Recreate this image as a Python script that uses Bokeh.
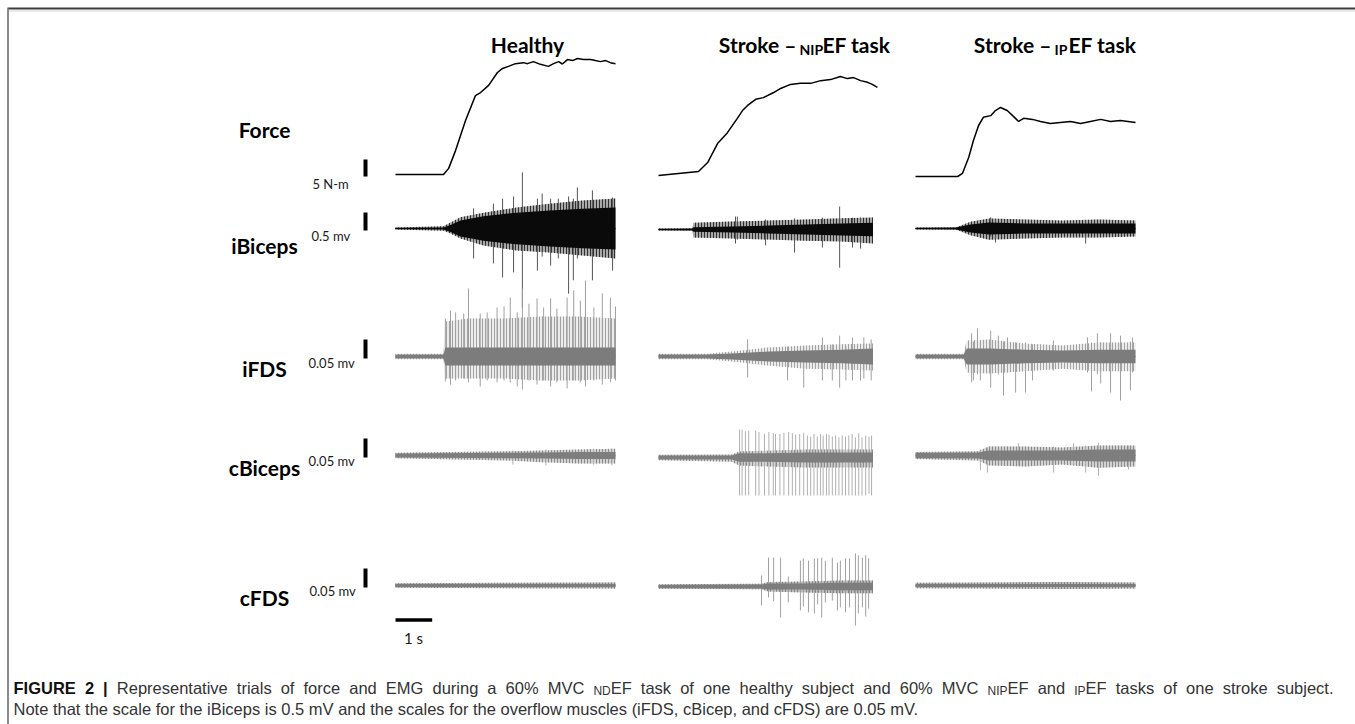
import numpy as np
from bokeh.plotting import figure
from bokeh.models import Range1d
from bokeh.core.properties import value
from bokeh.embed import file_html
from bokeh.resources import INLINE

# ---------------------------------------------------------------- data
rows = ["Force", "iBiceps", "iFDS", "cBiceps", "cFDS"]
scale_values = [5, 0.5, 0.05, 0.05, 0.05]
scale_labels = ["5 N-m", "0.5 mv", "0.05 mv", "0.05 mv", "0.05 mv"]
time_bar_s = 1
time_bar_label = "1 s"

# force above baseline (N-m) vs time (s)
healthy_force_t = [0, 1.31, 1.45, 1.64, 1.91, 2.18, 2.32, 2.54, 2.78, 2.92, 3.08, 3.27, 3.49, 3.60, 3.76,
                   3.95, 4.17, 4.31, 4.45, 4.55, 4.69, 4.83, 4.96, 5.13, 5.32, 5.45, 5.59, 5.73, 5.86, 6.0]
healthy_force = [0, 0, 1.8, 7.1, 15.9, 23.2, 24.1, 26.2, 30.0, 31.2, 31.8, 32.6, 32.9, 32.6, 33.2,
                 32.4, 31.8, 32.6, 33.2, 32.5, 33.8, 33.5, 34.1, 33.8, 33.8, 33.5, 33.2, 33.5, 32.9, 32.6]
nip_force_t = [0, 1.09, 1.34, 1.61, 1.88, 2.15, 2.29, 2.43, 2.65, 2.86, 3.14, 3.33, 3.60, 3.87, 4.15,
               4.42, 4.69, 4.96, 5.15, 5.32, 5.51, 5.70, 5.83, 5.97]
nip_force = [0, 1.2, 3.8, 9.4, 12.6, 16.8, 19.1, 20.6, 22.4, 22.9, 24.4, 25.6, 26.8, 27.1, 27.1,
             27.9, 28.2, 29.1, 28.5, 28.8, 27.9, 27.4, 26.8, 25.9]
ip_force_t = [0, 1.15, 1.28, 1.45, 1.58, 1.72, 1.85, 2.05, 2.18, 2.32, 2.50, 2.65, 2.81, 2.95, 3.19,
              3.41, 3.68, 3.95, 4.23, 4.50, 4.77, 5.05, 5.32, 5.59, 6.0]
ip_force = [0, 0, 0.9, 5.6, 10.6, 15.0, 17.4, 17.9, 19.4, 20.3, 19.4, 17.9, 16.2, 17.1, 16.8,
            16.2, 15.6, 15.9, 16.2, 15.6, 16.2, 16.8, 16.2, 16.5, 15.9]

# EMG envelopes (mV): (time s, dense-core half width, upper extent, lower extent)
healthy_ibiceps_env = [(0, 0.02, 0.03, 0.03), (1.31, 0.03, 0.06, 0.06), (1.5, 0.1, 0.17, 0.14),
                       (1.77, 0.22, 0.31, 0.28), (2.4, 0.34, 0.44, 0.47), (3.3, 0.44, 0.58, 0.61),
                       (4.2, 0.5, 0.69, 0.67), (5.1, 0.55, 0.78, 0.75), (6.0, 0.58, 0.83, 0.83)]
healthy_ifds_env = [(0, 0.005, 0.007, 0.007), (1.31, 0.005, 0.007, 0.007), (1.36, 0.024, 0.092, 0.058),
                    (2, 0.024, 0.1, 0.058), (3, 0.024, 0.1, 0.058), (4, 0.024, 0.105, 0.063),
                    (5, 0.024, 0.105, 0.063), (6, 0.024, 0.1, 0.058)]
healthy_cbiceps_env = [(0, 0.005, 0.007, 0.007), (3.0, 0.007, 0.011, 0.013), (4, 0.008, 0.013, 0.018),
                       (5, 0.009, 0.016, 0.021), (6, 0.009, 0.018, 0.021)]
healthy_cfds_env = [(0, 0.004, 0.006, 0.006), (3, 0.004, 0.007, 0.007), (6, 0.004, 0.008, 0.008)]
nip_ibiceps_env = [(0, 0.02, 0.03, 0.03), (0.93, 0.03, 0.03, 0.03), (0.95, 0.06, 0.19, 0.22),
                   (2, 0.08, 0.22, 0.25), (3, 0.11, 0.25, 0.28), (4, 0.14, 0.28, 0.31),
                   (5, 0.17, 0.31, 0.33), (5.85, 0.19, 0.33, 0.39)]
nip_ifds_env = [(0, 0.005, 0.007, 0.007), (1.3, 0.005, 0.007, 0.007), (2, 0.008, 0.013, 0.013),
                (3, 0.013, 0.024, 0.024), (4, 0.016, 0.029, 0.032), (5, 0.018, 0.032, 0.034),
                (5.85, 0.021, 0.034, 0.037)]
nip_cbiceps_env = [(0, 0.005, 0.007, 0.007), (2.0, 0.005, 0.008, 0.011), (2.2, 0.011, 0.016, 0.021),
                   (3, 0.011, 0.018, 0.024), (4, 0.013, 0.021, 0.026), (5, 0.013, 0.021, 0.026),
                   (5.85, 0.013, 0.021, 0.026)]
nip_cfds_env = [(0, 0.004, 0.006, 0.006), (2.78, 0.005, 0.007, 0.007), (3.0, 0.008, 0.012, 0.013),
                (4, 0.008, 0.013, 0.016), (5, 0.01, 0.016, 0.018), (5.85, 0.01, 0.016, 0.018)]
ip_ibiceps_env = [(0, 0.02, 0.03, 0.03), (1.1, 0.03, 0.03, 0.03), (1.5, 0.11, 0.19, 0.19),
                  (2, 0.17, 0.28, 0.31), (3, 0.14, 0.25, 0.28), (4, 0.14, 0.22, 0.25),
                  (5, 0.14, 0.25, 0.25), (6, 0.14, 0.22, 0.22)]
ip_ifds_env = [(0, 0.005, 0.007, 0.007), (1.31, 0.005, 0.007, 0.007), (1.4, 0.021, 0.042, 0.042),
               (2, 0.021, 0.045, 0.045), (3, 0.018, 0.034, 0.039), (4, 0.016, 0.029, 0.032),
               (5, 0.018, 0.037, 0.039), (6, 0.018, 0.037, 0.039)]
ip_cbiceps_env = [(0, 0.007, 0.009, 0.009), (1.7, 0.008, 0.011, 0.013), (2, 0.013, 0.024, 0.026),
                  (3, 0.013, 0.024, 0.029), (4, 0.013, 0.021, 0.024), (5, 0.016, 0.026, 0.032),
                  (6, 0.016, 0.026, 0.029)]
ip_cfds_env = [(0, 0.004, 0.007, 0.007), (2, 0.004, 0.008, 0.008), (4, 0.004, 0.009, 0.009),
               (6, 0.004, 0.008, 0.008)]

# individual large EMG spikes (mV): (time s, upward peak, downward peak)
healthy_ibiceps_spikes = [(2.13, 0.56, 0.83), (2.67, 0.69, 0.97), (2.92, 0.83, 1.36), (3.22, 0.89, 1.22),
                          (3.46, 1.56, 2.19), (3.87, 0.83, 1.17), (4.00, 0.97, 0.78), (4.23, 0.83, 1.03),
                          (4.44, 0.83, 0.83), (4.72, 0.89, 1.81), (4.85, 0.83, 1.44), (4.96, 1.14, 0.83),
                          (5.37, 1.06, 1.44), (5.92, 0.86, 1.17)]
healthy_ifds_spikes = [(1.36, 0.100, 0.066), (1.50, 0.121, 0.074), (1.64, 0.116, 0.063), (1.86, 0.113, 0.058),
                       (1.99, 0.179, 0.068), (2.31, 0.113, 0.079), (2.50, 0.116, 0.063), (2.77, 0.129, 0.068),
                       (2.96, 0.132, 0.063), (3.13, 0.155, 0.068), (3.32, 0.116, 0.079), (3.46, 0.179, 0.087),
                       (3.64, 0.139, 0.063), (3.86, 0.153, 0.074), (4.04, 0.129, 0.063), (4.23, 0.153, 0.079),
                       (4.40, 0.126, 0.068), (4.68, 0.155, 0.084), (4.86, 0.174, 0.063), (5.04, 0.147, 0.068),
                       (5.18, 0.200, 0.079), (5.41, 0.129, 0.063), (5.64, 0.166, 0.074), (5.86, 0.155, 0.068),
                       (6.0, 0.132, 0.063)]
healthy_cbiceps_spikes = [(3.2, 0.013, 0.024), (4.1, 0.016, 0.026), (5.4, 0.018, 0.024), (5.9, 0.018, 0.026)]
healthy_cfds_spikes = []
nip_ibiceps_spikes = [(2.10, 0.36, 0.39), (2.15, 0.36, 0.28), (2.92, 0.28, 0.44), (3.71, 0.31, 0.64),
                      (4.47, 0.33, 0.5), (4.94, 0.64, 1.06), (5.29, 0.33, 0.5), (5.51, 0.33, 0.53)]
nip_ifds_spikes = [(2.43, 0.045, 0.055), (3.52, 0.026, 0.063), (3.96, 0.026, 0.082), (4.47, 0.05, 0.063),
                   (4.74, 0.032, 0.063), (4.94, 0.055, 0.082), (5.11, 0.026, 0.063), (5.29, 0.05, 0.063),
                   (5.51, 0.032, 0.063), (5.60, 0.05, 0.058), (5.80, 0.045, 0.063)]
nip_cbiceps_spikes = [(2.21, 0.073, 0.1), (2.28, 0.073, 0.1), (2.37, 0.069, 0.1), (2.46, 0.071, 0.1),
                      (2.65, 0.071, 0.1), (2.74, 0.067, 0.1), (2.89, 0.062, 0.1), (3.01, 0.067, 0.1),
                      (3.13, 0.064, 0.1), (3.19, 0.062, 0.1), (3.31, 0.062, 0.1), (3.42, 0.065, 0.1),
                      (3.55, 0.067, 0.1), (3.65, 0.064, 0.1), (3.74, 0.060, 0.1), (3.85, 0.062, 0.1),
                      (3.96, 0.065, 0.1), (4.06, 0.058, 0.1), (4.15, 0.055, 0.1), (4.24, 0.062, 0.1),
                      (4.33, 0.055, 0.1), (4.42, 0.062, 0.1), (4.49, 0.058, 0.1), (4.58, 0.062, 0.1),
                      (4.65, 0.060, 0.1), (4.74, 0.055, 0.1), (4.83, 0.058, 0.1), (4.92, 0.053, 0.1),
                      (5.01, 0.058, 0.1), (5.10, 0.055, 0.1), (5.19, 0.058, 0.1), (5.28, 0.062, 0.1),
                      (5.37, 0.053, 0.1), (5.46, 0.064, 0.1), (5.55, 0.053, 0.1), (5.65, 0.058, 0.1),
                      (5.74, 0.055, 0.095), (5.81, 0.058, 0.1)]
nip_cfds_spikes = [(2.81, 0.029, 0.05), (3.00, 0.076, 0.029), (3.14, 0.076, 0.039), (3.33, 0.076, 0.082),
                   (3.54, 0.026, 0.042), (3.87, 0.068, 0.063), (3.95, 0.074, 0.053), (4.09, 0.068, 0.068),
                   (4.25, 0.074, 0.071), (4.34, 0.074, 0.047), (4.45, 0.076, 0.082), (4.55, 0.068, 0.042),
                   (4.74, 0.076, 0.037), (4.88, 0.063, 0.063), (4.96, 0.068, 0.055), (5.10, 0.074, 0.068),
                   (5.21, 0.074, 0.055), (5.37, 0.087, 0.103), (5.45, 0.082, 0.071), (5.56, 0.076, 0.055),
                   (5.65, 0.082, 0.079), (5.73, 0.074, 0.058)]
ip_ibiceps_spikes = [(2.05, 0.31, 0.22), (2.18, 0.25, 0.39), (4.64, 0.22, 0.42)]
ip_ifds_spikes = [(1.53, 0.061, 0.068), (1.58, 0.039, 0.063), (1.69, 0.074, 0.047), (1.77, 0.039, 0.063),
                  (2.05, 0.068, 0.082), (2.26, 0.055, 0.047), (2.40, 0.039, 0.103), (2.51, 0.05, 0.042),
                  (2.73, 0.037, 0.095), (3.00, 0.037, 0.095), (3.19, 0.032, 0.063), (3.76, 0.042, 0.037),
                  (4.69, 0.05, 0.042), (4.80, 0.037, 0.092), (4.96, 0.061, 0.047), (5.05, 0.037, 0.071),
                  (5.32, 0.061, 0.095), (5.59, 0.055, 0.116), (5.86, 0.039, 0.089), (5.92, 0.05, 0.042)]
ip_cbiceps_spikes = [(1.77, 0.016, 0.039), (1.96, 0.021, 0.045), (2.81, 0.032, 0.026), (3.76, 0.024, 0.045),
                     (4.31, 0.032, 0.026), (4.64, 0.026, 0.045), (4.99, 0.034, 0.053), (5.81, 0.026, 0.037)]
ip_cfds_spikes = []

caption_lead = "FIGURE 2 |"
caption_line1 = ("Representative trials of force and EMG during a 60% MVC _ND_EF task of one healthy "
                 "subject and 60% MVC _NIP_EF and _IP_EF tasks of one stroke subject.")
caption_line2 = ("Note that the scale for the iBiceps is 0.5 mV and the scales for the overflow muscles "
                 "(iFDS, cBicep, and cFDS) are 0.05 mV.")

# ---------------------------------------------------------------- layout
W, H = 1355, 724
PX_PER_S = 36.67
col_left = [395, 658, 915]
row_base = [[174, 175, 176], [228, 229, 228], [356, 356, 356], [455, 457, 455], [585, 586, 585]]
row_px_per_unit = [3.4, 36.0, 380.0, 380.0, 380.0]
row_label_base = [129, 245, 368, 467, 597]
unit_label_x = [312, 311, 308, 308, 309]
unit_label_base = [183, 235, 362, 460, 590]
BAR_X = 365

p = figure(width=W, height=H, x_range=Range1d(0, W), y_range=Range1d(H, 0),
           output_backend="svg", toolbar_location=None, x_axis_type=None, y_axis_type=None,
           min_border=0, outline_line_color=None)
p.background_fill_color = "white"
p.border_fill_color = "white"

for c, L in enumerate(col_left):
    p.extra_x_ranges[f"t{c}"] = Range1d(-L / PX_PER_S, (W - L) / PX_PER_S)
for r in range(5):
    k = row_px_per_unit[r]
    for c in range(3):
        B = row_base[r][c]
        p.extra_y_ranges[f"r{r}c{c}"] = Range1d((B - H) / k, B / k)


def txt(x, y, s, size, bold=False, align="left", font="Lato", color="#000000"):
    p.text(x=[x], y=[y], text=[s], text_font=value(font), text_font_size=f"{size}px",
           text_font_style="bold" if bold else "normal", text_align=align,
           text_baseline="alphabetic", text_color=color)


# frame lines
p.segment(x0=[7], y0=[8], x1=[W], y1=[8], line_color="#3c3c3c", line_width=2)
p.segment(x0=[8], y0=[10.5], x1=[W], y1=[10.5], line_color="#d5d5d5", line_width=1)
p.segment(x0=[7.5], y0=[8], x1=[7.5], y1=[H], line_color="#8a8a8a", line_width=2)

# force traces
for c, (t, f) in enumerate([(healthy_force_t, healthy_force), (nip_force_t, nip_force),
                            (ip_force_t, ip_force)]):
    p.line(x=t, y=f, x_range_name=f"t{c}", y_range_name=f"r0c{c}", line_color="black",
           line_width=1.5)

# EMG traces
emg = {
    (1, 0): (healthy_ibiceps_env, healthy_ibiceps_spikes), (2, 0): (healthy_ifds_env, healthy_ifds_spikes),
    (3, 0): (healthy_cbiceps_env, healthy_cbiceps_spikes), (4, 0): (healthy_cfds_env, healthy_cfds_spikes),
    (1, 1): (nip_ibiceps_env, nip_ibiceps_spikes), (2, 1): (nip_ifds_env, nip_ifds_spikes),
    (3, 1): (nip_cbiceps_env, nip_cbiceps_spikes), (4, 1): (nip_cfds_env, nip_cfds_spikes),
    (1, 2): (ip_ibiceps_env, ip_ibiceps_spikes), (2, 2): (ip_ifds_env, ip_ifds_spikes),
    (3, 2): (ip_cbiceps_env, ip_cbiceps_spikes), (4, 2): (ip_cfds_env, ip_cfds_spikes),
}
# (outer fill, outer hatch, spike, core) colours per muscle row
row_colors = {1: ("#a8a8a8", "#303030", "#555555", "#0a0a0a"),
              2: ("#ececec", "#a2a2a2", "#a0a0a0", "#7c7c7c"),
              3: ("#d2d2d2", "#8c8c8c", "#b0b0b0", "#7e7e7e"),
              4: ("#bdbdbd", "#858585", "#a0a0a0", "#7d7d7d")}

for (r, c), (env, spikes) in emg.items():
    e = np.array(env, dtype=float)
    t, core, up, dn = e[:, 0], e[:, 1], e[:, 2], e[:, 3]
    outer_col, hatch_col, spike_col, core_col = row_colors[r]
    rn = dict(x_range_name=f"t{c}", y_range_name=f"r{r}c{c}")
    p.varea(x=t, y1=-dn, y2=up, fill_color=outer_col, hatch_pattern="vertical_line",
            hatch_color=hatch_col, hatch_scale=3, hatch_weight=1, **rn)
    if spikes:
        s = np.array(spikes, dtype=float)
        p.segment(x0=s[:, 0], y0=-s[:, 2], x1=s[:, 0], y1=s[:, 1], line_color=spike_col,
                  line_width=1, **rn)
    p.varea(x=t, y1=-core, y2=core, fill_color=core_col, **rn)
    p.line(x=[t[0], t[-1]], y=[0, 0], line_color=core_col, line_width=1, **rn)

# amplitude scale bars, unit labels and row labels
for r in range(5):
    k = row_px_per_unit[r]
    drop = 2.0 / k
    p.segment(x0=[BAR_X], y0=[-drop], x1=[BAR_X], y1=[scale_values[r] - drop], line_color="black",
              line_width=4, y_range_name=f"r{r}c0")
    txt(unit_label_x[r], unit_label_base[r], scale_labels[r], 13, color="#1a1a1a")
    txt(264, row_label_base[r], rows[r], 21, bold=True, align="center")

# time scale bar
p.segment(x0=[0], y0=[619.5], x1=[time_bar_s], y1=[619.5], x_range_name="t0", line_color="black",
          line_width=3.5)
txt(413, 637, time_bar_label, 15, align="center", color="#1a1a1a")

# column titles
txt(527, 44, "Healthy", 21, bold=True, align="center")
txt(796, 44, "Stroke \u2013", 21, bold=True, align="right")
txt(799, 49, "NIP", 14, bold=True)
txt(822, 44, "EF task", 21, bold=True)
txt(1051, 44, "Stroke \u2013", 21, bold=True, align="right")
txt(1054, 49, "IP", 14, bold=True)
txt(1068, 44, "EF task", 21, bold=True)

# caption: justified first line (Arial metrics of Liberation Sans used to place words)
AR = {' ': 278, '%': 889, '(': 333, ')': 333, ',': 278, '-': 333, '.': 278, '|': 260, '0': 556,
      '2': 556, '5': 556, '6': 556,
      'A': 667, 'B': 667, 'C': 722, 'D': 722, 'E': 667, 'F': 611, 'G': 778, 'H': 722, 'I': 278,
      'M': 833, 'N': 722, 'P': 667, 'R': 722, 'S': 667, 'U': 722, 'V': 667,
      'a': 556, 'b': 556, 'c': 500, 'd': 556, 'e': 556, 'f': 278, 'g': 556, 'h': 556, 'i': 222,
      'j': 222, 'k': 500, 'l': 222, 'm': 833, 'n': 556, 'o': 556, 'p': 556, 'r': 333, 's': 500,
      't': 278, 'u': 556, 'v': 500, 'w': 722, 'x': 500, 'y': 500}
ARB = {'F': 611, 'I': 278, 'G': 778, 'U': 722, 'R': 722, 'E': 667, ' ': 278, '2': 556, '|': 280}
CAP_FONT = "Liberation Sans"
CAP_FS = 16.5
SUB_FS = 12.0
CAP_X0, CAP_X1 = 13, 1333
CAP_Y1, CAP_Y2 = 687, 708


def wpx(s, size, bold=False):
    tab = ARB if bold else AR
    return sum(tab.get(ch, 556) for ch in s) / 1000.0 * size


words = [[(w, "b")] for w in caption_lead.split(" ")]
for w in caption_line1.split(" "):
    parts = w.split("_")
    pieces = [(pt, "s" if i % 2 == 1 else "n") for i, pt in enumerate(parts) if pt]
    words.append(pieces)


def piece_w(pt, kd):
    return wpx(pt, SUB_FS if kd == "s" else CAP_FS, kd == "b")


natural = sum(piece_w(pt, kd) for wd in words for pt, kd in wd)
gap = (CAP_X1 - CAP_X0 - natural) / (len(words) - 1)
x = CAP_X0
for wd in words:
    for pt, kd in wd:
        p.text(x=[x], y=[CAP_Y1 + (3 if kd == "s" else 0)], text=[pt], text_font=value(CAP_FONT),
               text_font_size=f"{SUB_FS if kd == 's' else CAP_FS}px",
               text_font_style="bold" if kd == "b" else "normal", text_align="left",
               text_baseline="alphabetic", text_color="#111111" if kd == "b" else "#333333")
        x += piece_w(pt, kd)
    x += gap
p.text(x=[CAP_X0], y=[CAP_Y2], text=[caption_line2], text_font=value(CAP_FONT),
       text_font_size=f"{CAP_FS}px", text_align="left", text_baseline="alphabetic",
       text_color="#333333")

open("out.html", "w").write(file_html(p, INLINE))
